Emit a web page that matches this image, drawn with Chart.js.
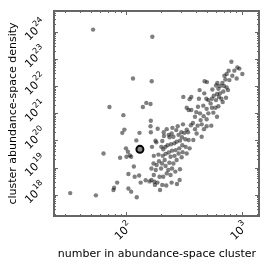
<!DOCTYPE html>
<html>
<head>
<meta charset="utf-8">
<script src="https://cdn.jsdelivr.net/npm/chart.js@4"></script>
<style>
  html, body { margin: 0; padding: 0; background: #fff; }
  #wrap { width: 270px; height: 270px; }
</style>
</head>
<body>
<div id="wrap"><canvas id="chart" width="270" height="270"></canvas></div>
<script>
// number of stars in each cluster
const clusterSize = [
  52, 169, 115, 167, 72, 140, 150, 163, 164, 95, 97, 93, 131, 123, 100, 104, 108, 111, 101, 89,
  64, 117, 105, 119, 130, 148, 134, 84, 79, 78, 105, 111, 124, 55, 33, 164, 163, 188, 183, 206,
  213, 234, 168, 180, 202, 210, 174, 191, 160,
  815, 917, 955, 864, 1013, 905, 830, 772, 742, 709, 783, 723, 681, 616, 501, 478, 600, 650, 703, 742,
  629, 558, 762, 694, 650, 612, 573, 433, 553, 600, 636, 667, 732, 515, 495, 685, 539, 475, 629, 593,
  553, 498, 466, 427, 367, 355, 313, 419, 335, 348, 367, 405, 436, 515, 569, 612, 469, 395, 442, 498,
  379, 546, 498, 451, 416, 472, 395, 364, 335, 311, 344, 320, 301, 280, 272, 252, 248, 225, 212,
  285, 257, 238, 305, 326, 293, 274, 262, 245, 229, 219, 307, 328, 289, 269, 250, 234, 220, 208, 243,
  263, 285, 309, 355, 382, 451, 408, 348, 335, 303, 274, 257, 237, 216, 205, 193, 184, 173, 166, 181,
  201, 220, 232, 243, 225, 210, 195, 174, 166, 176, 187, 206, 178, 197, 250, 293, 267, 291, 276, 248, 223
];
// abundance-space density of each cluster
const clusterDensity = [
  1.2e24, 6.5e23, 1.9e22, 1.5e22, 1.7e21, 1.7e21, 2.4e21, 2.2e21, 5.3e20, 8.5e20,
  2.5e20, 1.9e20, 1.9e20, 1.0e20, 5.1e19, 3.8e19, 2.8e19, 2.5e19, 2.5e19, 2.3e19,
  3.3e19, 1.1e19, 5.8e18, 4.6e18, 5.1e18, 3.4e18, 2.8e18, 2.8e18, 1.8e18, 1.5e18,
  1.7e18, 1.3e18, 8.1e17, 9.5e17, 1.15e18, 2.0e20, 3.3e20, 2.7e20, 8.5e19, 9.5e19,
  1.45e20, 1.6e20, 5.8e19, 9.8e19, 5.8e19, 4.7e19, 2.7e19, 3.0e19, 3.1e18,
  7.9e22, 4.8e22, 4.4e22, 3.7e22, 2.8e22, 1.9e22, 2.4e22, 3.7e22, 2.8e22, 2.4e22,
  1.66e22, 1.75e22, 1.3e22, 1.3e22, 1.4e22, 1.5e22, 1.05e22, 1.0e22, 1.0e22, 8.9e21,
  7.9e21, 7.5e21, 7.1e21, 6.3e21, 5.4e21, 5.1e21, 4.4e21, 7.1e21, 3.4e21, 3.05e21,
  4.0e21, 3.4e21, 3.7e21, 3.05e21, 3.4e21, 2.6e21, 2.3e21, 5.4e21, 1.8e21, 1.6e21,
  1.6e21, 1.45e21, 1.9e21, 3.4e21, 4.0e21, 3.3e21, 4.0e21, 1.73e21, 1.6e21, 1.31e21,
  1.31e21, 1.1e21, 9.9e20, 9.9e20, 1.05e21, 7.4e20, 7.8e20, 7.4e20, 5.6e20, 6.0e20,
  4.4e20, 3.5e20, 3.3e20, 3.9e20, 3.5e20, 2.6e20, 2.6e20, 3.6e20, 2.5e20, 3.9e20,
  2.0e20, 1.9e20, 2.0e20, 3.3e20, 2.4e20, 2.9e20, 1.8e20, 2.6e20, 2.0e20,
  1.6e20, 1.36e20, 1.3e20, 1.3e20, 1.1e20, 9.8e19, 9.0e19, 7.8e19, 7.2e19, 6.6e19,
  5.8e19, 6.6e19, 5.8e19, 5.1e19, 4.4e19, 4.2e19, 3.6e19, 3.2e19, 2.7e19, 2.5e19,
  2.7e19, 3.3e19, 3.7e19, 5.1e19, 1.03e20, 1.36e20, 1.8e20, 1.03e20, 3.3e19, 2.4e19,
  1.9e19, 1.42e19, 1.5e19, 1.9e19, 1.42e19, 1.7e19, 1.25e19, 1.42e19, 9.3e18, 8.1e18,
  9.3e18, 1.15e19, 8.1e18, 5.3e18, 6.1e18, 4.6e18, 4.6e18, 5.3e18, 3.5e18, 3.0e18,
  2.8e18, 2.3e18, 2.3e18, 1.49e18, 9.3e18, 8.7e18, 7.1e18, 3.5e18, 2.5e18, 2.8e18, 2.2e18
];
// the highlighted cluster
const markedSize = [132];
const markedDensity = [4.7e19];

const xRange = [23.9, 1411];
const yRange = [1.65e17, 5.8e24];
const xTickValues = [100, 1000];
const yTickValues = [1e18, 1e19, 1e20, 1e21, 1e22, 1e23, 1e24];
const xTitle = 'number in abundance-space cluster';
const yTitle = 'cluster abundance-space density';

const FONT = '"DejaVu Sans", sans-serif';

function drawPower(ctx, cx, cy, value) {
  const exp = String(Math.round(Math.log10(value)));
  ctx.save();
  ctx.translate(cx, cy);
  ctx.rotate(-Math.PI / 4);
  ctx.font = '11px ' + FONT;
  const w1 = ctx.measureText('10').width;
  ctx.font = '8px ' + FONT;
  const w2 = ctx.measureText(exp).width;
  const x0 = -(w1 + w2) / 2;
  ctx.fillStyle = '#000';
  ctx.textAlign = 'left';
  ctx.textBaseline = 'alphabetic';
  ctx.font = '11px ' + FONT;
  ctx.fillText('10', x0, 4);
  ctx.font = '8px ' + FONT;
  ctx.fillText(exp, x0 + w1 + 0.5, -1.5);
  ctx.restore();
}

const framePlugin = {
  id: 'frame',
  afterDraw(chart) {
    const { ctx, chartArea: a, scales: { x, y } } = chart;
    ctx.save();
    ctx.strokeStyle = '#666';
    ctx.lineWidth = 1;
    const vtick = (v, len) => {
      const px = Math.round(x.getPixelForValue(v)) + 0.5;
      ctx.beginPath();
      ctx.moveTo(px, a.bottom); ctx.lineTo(px, a.bottom - len);
      ctx.moveTo(px, a.top); ctx.lineTo(px, a.top + len);
      ctx.stroke();
    };
    const htick = (v, len) => {
      const py = Math.round(y.getPixelForValue(v)) + 0.5;
      ctx.beginPath();
      ctx.moveTo(a.left, py); ctx.lineTo(a.left + len, py);
      ctx.moveTo(a.right, py); ctx.lineTo(a.right - len, py);
      ctx.stroke();
    };
    // minor ticks at 2..9 of every decade, major at the labelled powers
    for (let d = 1; d <= 1000; d *= 10) {
      for (let m = 2; m <= 9; m++) {
        const v = m * d;
        if (v > xRange[0] && v < xRange[1]) vtick(v, 2);
      }
    }
    for (let e = 17; e <= 24; e++) {
      for (let m = 2; m <= 9; m++) {
        const v = m * Math.pow(10, e);
        if (v > yRange[0] && v < yRange[1]) htick(v, 2);
      }
    }
    xTickValues.forEach(v => vtick(v, 4));
    yTickValues.forEach(v => htick(v, 4));

    ctx.lineWidth = 2;
    ctx.strokeRect(a.left, a.top, a.right - a.left, a.bottom - a.top);

    xTickValues.forEach(v => drawPower(ctx, x.getPixelForValue(v) - 3, a.bottom + 15, v));
    yTickValues.forEach(v => drawPower(ctx, a.left - 19, y.getPixelForValue(v) - 2, v));

    ctx.fillStyle = '#000';
    ctx.font = '11px ' + FONT;
    ctx.textAlign = 'center';
    ctx.textBaseline = 'middle';
    ctx.fillText(xTitle, (a.left + a.right) / 2 + 0.5, 254);
    ctx.translate(13, (a.top + a.bottom) / 2);
    ctx.rotate(-Math.PI / 2);
    ctx.fillText(yTitle, 0, 0);
    ctx.restore();
  }
};

const ctx = document.getElementById('chart').getContext('2d');
new Chart(ctx, {
  type: 'scatter',
  data: {
    datasets: [
      {
        data: clusterSize.map((n, i) => ({ x: n, y: clusterDensity[i] })),
        backgroundColor: 'rgba(0,0,0,0.5)',
        borderWidth: 0,
        pointRadius: 2.2,
        pointHoverRadius: 2.2
      },
      {
        data: markedSize.map((n, i) => ({ x: n, y: markedDensity[i] })),
        backgroundColor: '#888',
        borderColor: '#000',
        borderWidth: 2,
        pointRadius: 3.5
      }
    ]
  },
  options: {
    responsive: false,
    animation: false,
    devicePixelRatio: 1,
    layout: { padding: { left: 54, right: 11, top: 11, bottom: 54 } },
    plugins: { legend: { display: false }, tooltip: { enabled: false } },
    scales: {
      x: { type: 'logarithmic', min: xRange[0], max: xRange[1], display: false },
      y: { type: 'logarithmic', min: yRange[0], max: yRange[1], display: false }
    }
  },
  plugins: [framePlugin]
});
</script>
</body>
</html>
